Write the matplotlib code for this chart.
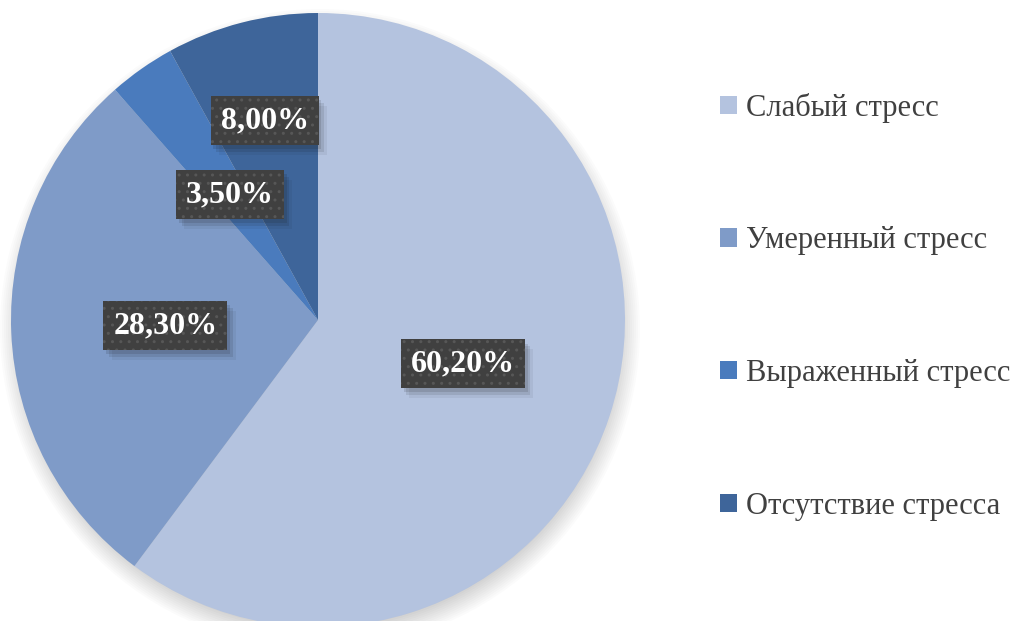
import matplotlib.pyplot as plt
import matplotlib.patheffects as pe
from matplotlib.patches import Circle

plt.rcParams['font.family'] = ['Liberation Serif', 'DejaVu Serif']
plt.rcParams['hatch.linewidth'] = 1.0

# data
labels = ['Слабый стресс', 'Умеренный стресс', 'Выраженный стресс', 'Отсутствие стресса']
values = [60.2, 28.3, 3.5, 8.0]
value_text = ['60,20%', '28,30%', '3,50%', '8,00%']
colors = ['#b4c3df', '#7f9bc8', '#4a7bbd', '#3e659a']


class PlainShadow(pe.SimplePatchShadow):
    # shadow without the hatch pattern of the box
    def draw_path(self, renderer, gc, tpath, affine, rgbFace):
        h = gc.get_hatch()
        gc.set_hatch(None)
        super().draw_path(renderer, gc, tpath, affine, rgbFace)
        gc.set_hatch(h)


fig = plt.figure(figsize=(10.21, 6.21), dpi=100)
ax = fig.add_axes([0, 0, 1, 1])

cx, cy, r = 318, 301, 307

# soft shadow under the pie
for i in range(12):
    ax.add_patch(Circle((cx + 2, cy - 9), r + 13 - i * 2, color='black',
                        alpha=0.014, lw=0, zorder=0))

wedges, _ = ax.pie(values, colors=colors, startangle=90, counterclock=False,
                   center=(cx, cy), radius=r, frame=True,
                   wedgeprops=dict(linewidth=0))
ax.set_xlim(0, 1021)
ax.set_ylim(0, 621)
ax.set_aspect('equal')
ax.axis('off')

# label positions as fraction of radius
label_pos = [(0.472, -0.143), (-0.497, -0.018), (-0.287, 0.409), (-0.174, 0.650)]
for (fx, fy), txt in zip(label_pos, value_text):
    t = ax.text(cx + fx * r, cy + fy * r, txt, ha='center', va='center',
                fontsize=23, fontweight='bold', color='white', zorder=5,
                bbox=dict(boxstyle='square,pad=0.31', facecolor='#404040',
                          edgecolor='#575757', linewidth=0, hatch='..'))
    t.get_bbox_patch().set_path_effects([
        PlainShadow(offset=(2, -3), alpha=0.12),
        PlainShadow(offset=(4, -5), alpha=0.10),
        PlainShadow(offset=(6, -7), alpha=0.06),
        pe.Normal()])

leg = ax.legend(wedges, labels, loc='center left', bbox_to_anchor=(0.678, 0.506),
                frameon=False, fontsize=22, labelspacing=3.39,
                handlelength=0.55, handleheight=0.55, handletextpad=0.3,
                labelcolor='#404040')

fig.savefig('out.png', dpi=100)
